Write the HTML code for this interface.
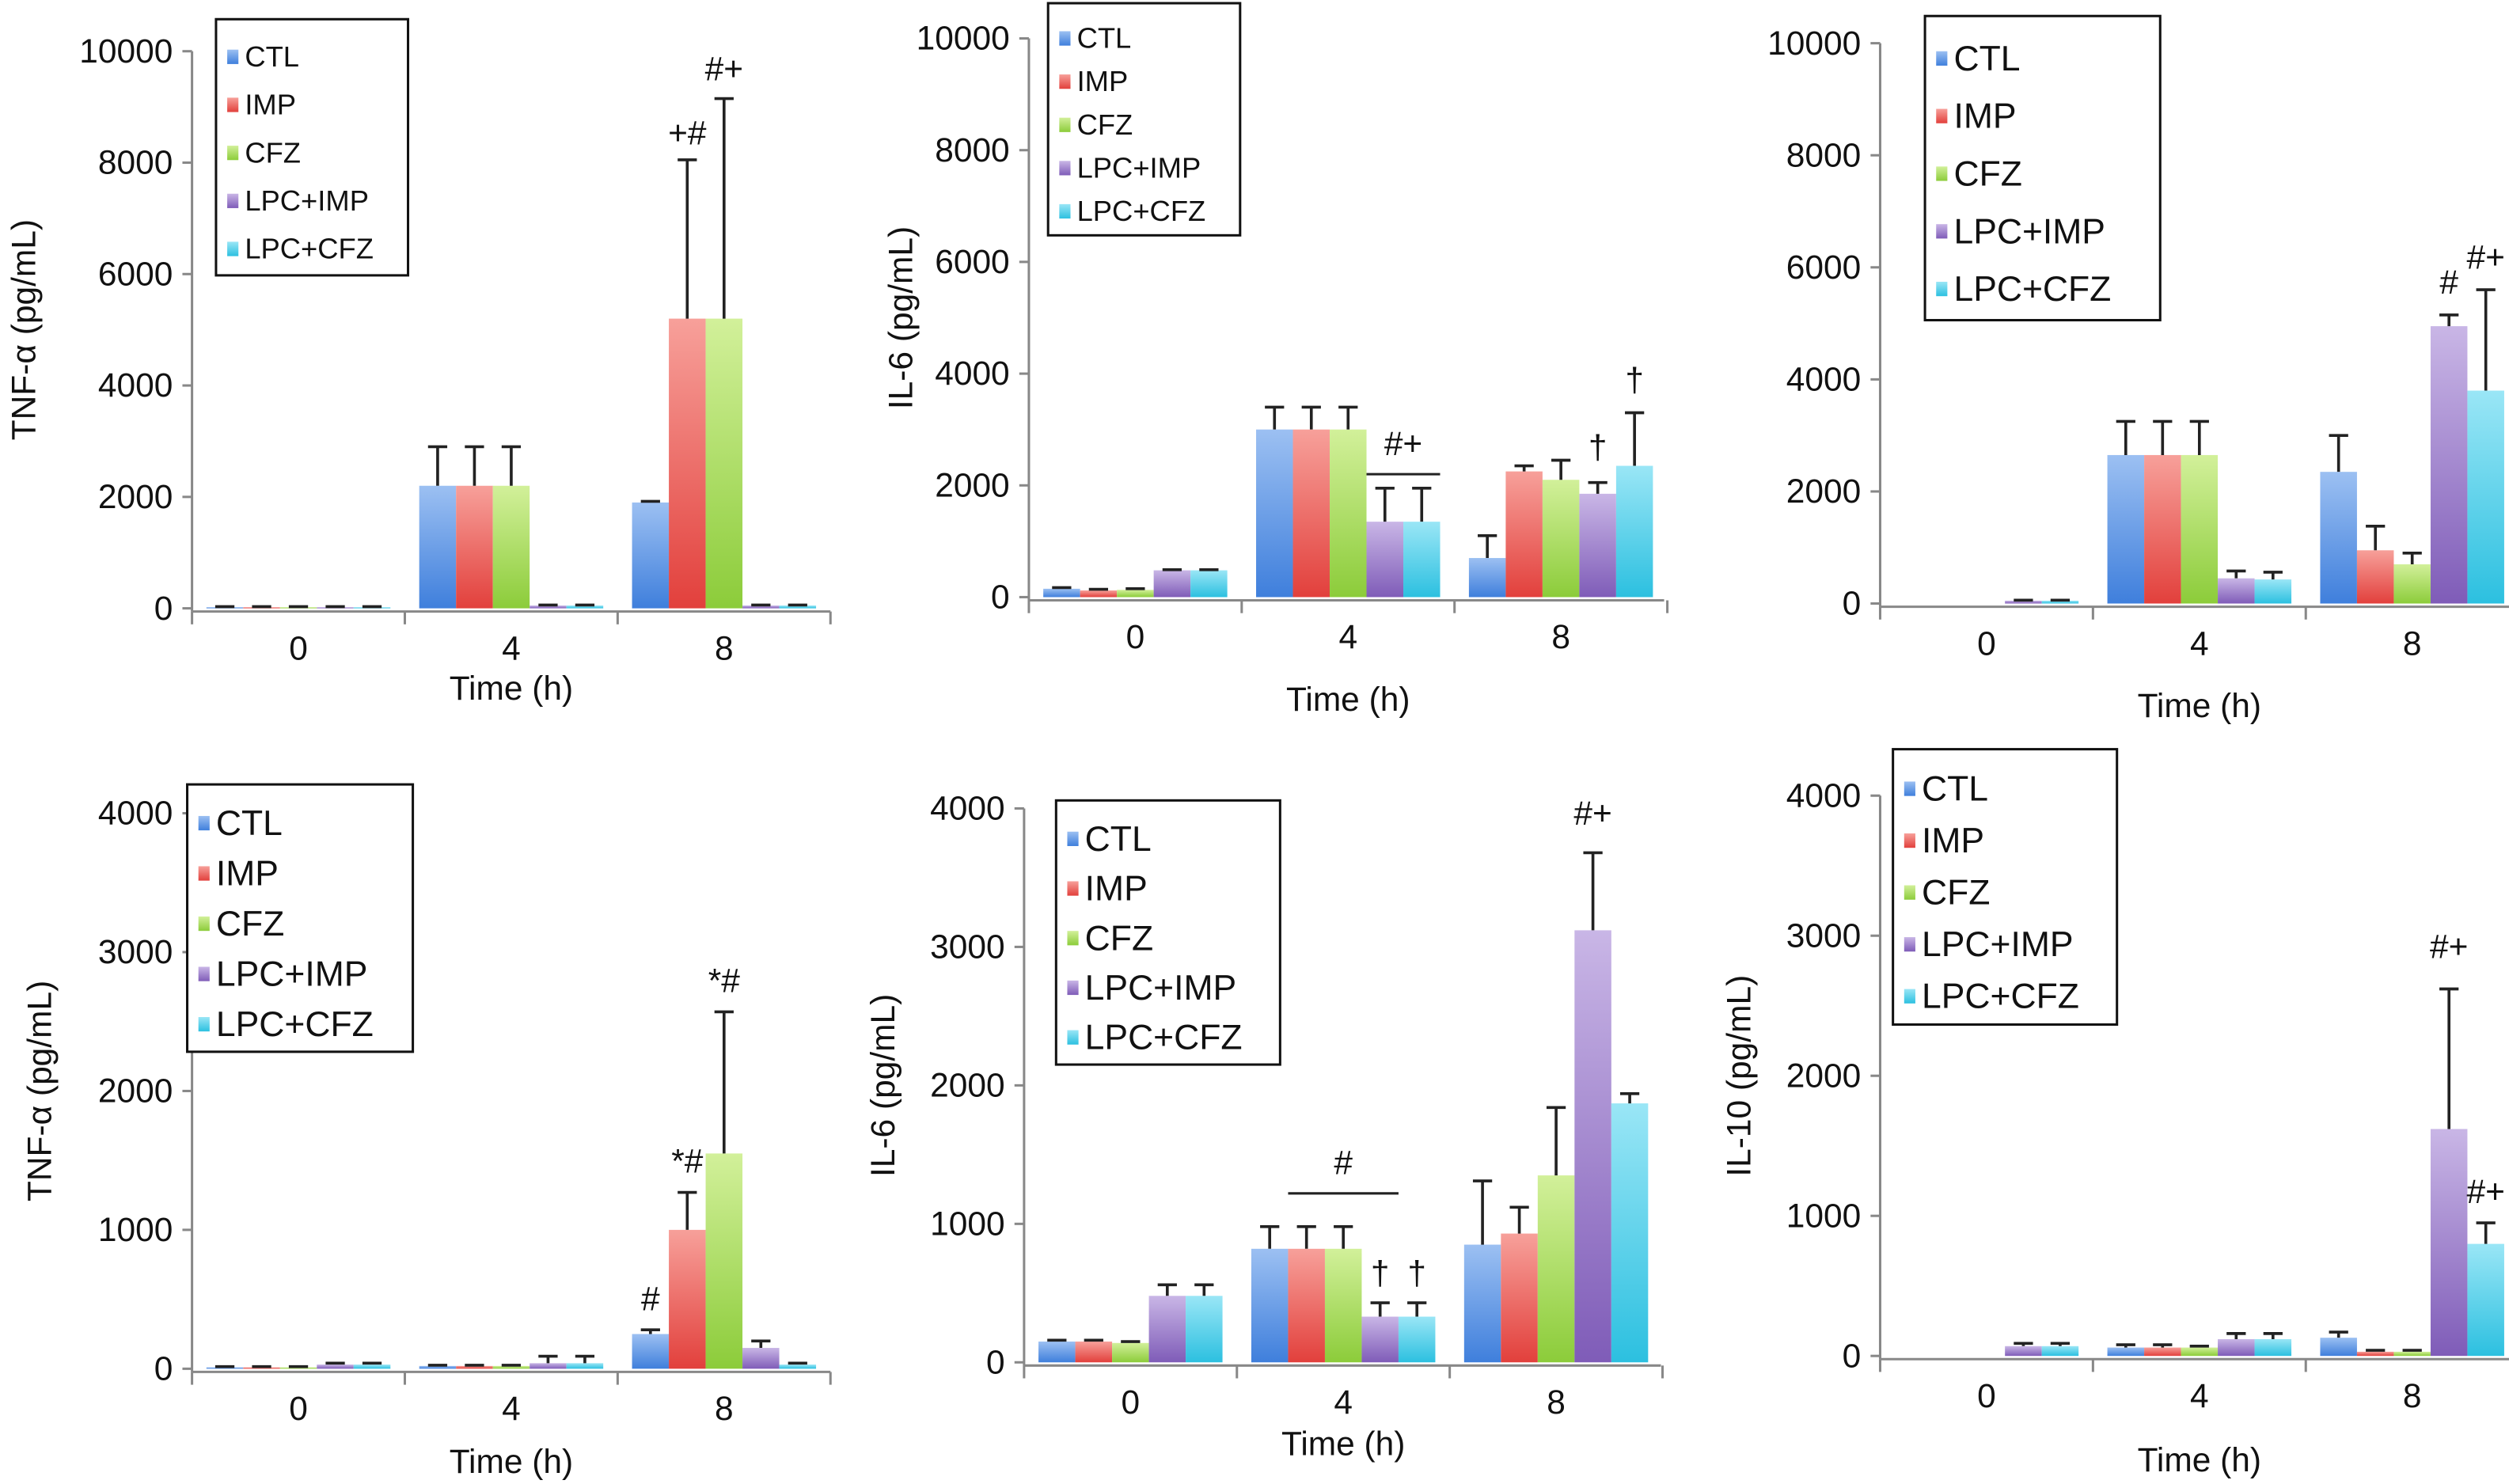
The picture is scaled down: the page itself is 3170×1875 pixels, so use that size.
<!DOCTYPE html>
<html><head><meta charset="utf-8"><style>
html,body{margin:0;padding:0;background:#fff;}
svg{display:block;font-family:"Liberation Sans",sans-serif;}
</style></head><body>
<svg id="fig" width="3170" height="1875" viewBox="0 0 1568 927" preserveAspectRatio="none" xmlns="http://www.w3.org/2000/svg">
<defs>
<linearGradient id="g0" x1="0" y1="0" x2="0" y2="1"><stop offset="0" stop-color="#9cc0f2"/><stop offset="1" stop-color="#3f7fdc"/></linearGradient>
<linearGradient id="g1" x1="0" y1="0" x2="0" y2="1"><stop offset="0" stop-color="#f7a09a"/><stop offset="1" stop-color="#e2403c"/></linearGradient>
<linearGradient id="g2" x1="0" y1="0" x2="0" y2="1"><stop offset="0" stop-color="#d2f09a"/><stop offset="1" stop-color="#8ccc3a"/></linearGradient>
<linearGradient id="g3" x1="0" y1="0" x2="0" y2="1"><stop offset="0" stop-color="#c9b6e6"/><stop offset="1" stop-color="#7f5cb8"/></linearGradient>
<linearGradient id="g4" x1="0" y1="0" x2="0" y2="1"><stop offset="0" stop-color="#9ae6f6"/><stop offset="1" stop-color="#2cc0e0"/></linearGradient>
</defs>
</svg>
<script>
const series = ["CTL","IMP","CFZ","LPC+IMP","LPC+CFZ"];
const categories = ["0","4","8"];
const ticksTop = [0,2000,4000,6000,8000,10000];
const ticksBot = [0,1000,2000,3000,4000];
const p1Vals = [[20,20,20,20,20],[2200,2200,2200,50,50],[1900,5200,5200,50,50]];
const p1Errs = [[30,30,30,30,30],[2900,2900,2900,60,60],[1920,8050,9150,60,60]];
const p2Vals = [[150,120,130,480,480],[3000,3000,3000,1350,1350],[700,2250,2100,1850,2350]];
const p2Errs = [[170,140,150,490,490],[3400,3400,3400,1950,1950],[1100,2350,2450,2050,3300]];
const p3Vals = [[0,0,0,50,50],[2650,2650,2650,450,430],[2350,950,700,4950,3800]];
const p3Errs = [[0,0,0,60,60],[3250,3250,3250,580,560],[3000,1380,900,5150,5600]];
const p4Vals = [[10,10,10,30,30],[20,20,20,40,40],[250,1000,1550,150,30]];
const p4Errs = [[15,15,15,40,40],[25,25,25,90,90],[280,1270,2570,200,40]];
const p5Vals = [[150,150,140,480,480],[820,820,820,330,330],[850,930,1350,3120,1870]];
const p5Errs = [[160,160,150,560,560],[980,980,980,430,430],[1310,1120,1840,3680,1940]];
const p6Vals = [[0,0,0,70,70],[60,60,60,120,120],[130,30,30,1620,800]];
const p6Errs = [[0,0,0,90,90],[80,80,70,160,160],[170,40,40,2620,950]];

const NS="http://www.w3.org/2000/svg";
const svg=document.getElementById('fig');
function mk(tag,attrs,parent,text){const e=document.createElementNS(NS,tag);for(const k in attrs)e.setAttribute(k,attrs[k]);if(text!==undefined)e.textContent=text;(parent||svg).appendChild(e);return e;}

const panels=[
 {vals:p1Vals,errs:p1Errs,ticks:ticksTop,max:10000,ax:120,y0:380,yTop:32,x1:520,ylab:"TNF-α (pg/mL)",ylx:15,xt:430,leg:[135,12,120,160,18],
  ann:[[2,1,"+#",8100],[2,2,"#+",9250]],lines:[]},
 {vals:p2Vals,errs:p2Errs,ticks:ticksTop,max:10000,ax:643,y0:373,yTop:24,x1:1040,ylab:"IL-6 (pg/mL)",ylx:563,xt:437,leg:[655,2,120,145,18],
  ann:[[2,3,"†",2250],[2,4,"†",3450]],lines:[[1,3,4,2200,"#+"]]},
 {vals:p3Vals,errs:p3Errs,ticks:ticksTop,max:10000,ax:1175,y0:377,yTop:27,x1:1568,ylab:null,xt:441,leg:[1203,10,147,190,22],
  ann:[[2,3,"#",5300],[2,4,"#+",5750]],lines:[]},
 {vals:p4Vals,errs:p4Errs,ticks:ticksBot,max:4000,ax:120,y0:855,yTop:508,x1:523,ylab:"TNF-α (pg/mL)",ylx:25,xt:913,leg:[117,490,141,167,22],
  ann:[[2,0,"#",330],[2,1,"*#",1320],[2,2,"*#",2620]],lines:[]},
 {vals:p5Vals,errs:p5Errs,ticks:ticksBot,max:4000,ax:640,y0:851,yTop:505,x1:1038,ylab:"IL-6 (pg/mL)",ylx:552,xt:902,leg:[660,500,140,165,22],
  ann:[[1,3,"†",470],[1,4,"†",470],[2,3,"#+",3790]],lines:[[1,1,3,1220,"#"]]},
 {vals:p6Vals,errs:p6Errs,ticks:ticksBot,max:4000,ax:1175,y0:847,yTop:497,x1:1568,ylab:"IL-10 (pg/mL)",ylx:1087,xt:912,leg:[1183,468,140,172,22],
  ann:[[2,3,"#+",2750],[2,4,"#+",1000]],lines:[]}
];

panels.forEach((P,pi)=>{
  const g=mk('g',{});
  
  
  const Y=v=>P.y0-(v/P.max)*(P.y0-P.yTop);
  const gw=133;
  const gx=i=>P.ax+i*gw;
  const bw=23, off=(gw-5*bw)/2;
  const BX=(i,s)=>gx(i)+off+s*bw;
  const ya=mk('line',{x1:P.ax,y1:Y(P.max),x2:P.ax,y2:P.y0+2,stroke:'#888','stroke-width':1.5},g);
  
  
  P.ticks.forEach(t=>{
    mk('line',{x1:P.ax-6,x2:P.ax,y1:Y(t),y2:Y(t),stroke:'#888','stroke-width':1.5},g);
    const tl=mk('text',{x:P.ax-12,y:Y(t)+7,'text-anchor':'end','font-size':21,fill:'#111'},g,String(t));
    
    
  });
  const xa=mk('line',{x1:P.ax,y1:P.y0+2,x2:Math.min(P.x1,gx(3)),y2:P.y0+2,stroke:'#888','stroke-width':1.5},g);
  
  
  for(let i=0;i<=3;i++){if(gx(i)<=1566)mk('line',{x1:gx(i),x2:gx(i),y1:P.y0+2,y2:P.y0+10,stroke:'#888','stroke-width':1.5},g);}
  categories.forEach((c,i)=>{
    const t=mk('text',{x:gx(i)+gw/2,y:P.y0+32,'text-anchor':'middle','font-size':21,fill:'#111'},g,c);
    
    
  });
  const xt=mk('text',{x:gx(1)+gw/2,y:P.xt+7,'text-anchor':'middle','font-size':21,fill:'#111'},g,"Time (h)");
  
  
  if(P.ylab){
    const cy=(P.y0+P.yTop)/2;
    const yl=mk('text',{x:P.ylx+7,y:cy,'text-anchor':'middle','font-size':21,fill:'#111',transform:`rotate(-90 ${P.ylx+7} ${cy})`},g,P.ylab);
    
    
  }
  P.vals.forEach((row,i)=>row.forEach((v,s)=>{
    const x=BX(i,s), y=Y(v);
    const r=mk('rect',{x:x,y:y,width:bw,height:Math.max(0,P.y0-y),fill:`url(#g${s})`},g);
    
    
    const e=P.errs[i][s];
    if(e>v){
      const cx=x+bw/2, ey=Y(e);
      const el=mk('path',{d:`M${cx} ${y}V${ey}M${cx-6} ${ey}H${cx+6}`,stroke:'#222','stroke-width':1.8,fill:'none'},g);
      
      
    } else if(v>0){
      mk('line',{x1:x+4,x2:x+bw-4,y1:y,y2:y,stroke:'#222','stroke-width':1.8},g);
    }
  }));
  P.ann.forEach(a=>{
    const t=mk('text',{x:BX(a[0],a[1])+bw/2,y:Y(a[3])-8,'text-anchor':'middle','font-size':21,fill:'#111'},g,a[2]);
    
    
  });
  P.lines.forEach(l=>{
    const xa1=BX(l[0],l[1]), xb=BX(l[0],l[2])+bw, y=Y(l[3]);
    mk('line',{x1:xa1,x2:xb,y1:y,y2:y,stroke:'#222','stroke-width':1.5},g);
    const t=mk('text',{x:(xa1+xb)/2,y:y-12,'text-anchor':'middle','font-size':21,fill:'#111'},g,l[4]);
    
    
  });
  const [lx,ly,lw,lh,fs]=P.leg;
  const lg=mk('g',{},g);
  
  
  mk('rect',{x:lx,y:ly,width:lw,height:lh,fill:'#fff',stroke:'#111','stroke-width':1.5},lg);
  const step=(lh-10)/5;
  series.forEach((s,k)=>{
    const cy=ly+8+step*k+step/2;
    const e=mk('g',{},lg);
    
    
    mk('rect',{x:lx+7,y:cy-4,width:7,height:9,fill:`url(#g${k})`},e);
    mk('text',{x:lx+18,y:cy+fs*0.36,'font-size':fs,fill:'#111'},e,s);
  });
});
</script>
</body></html>
